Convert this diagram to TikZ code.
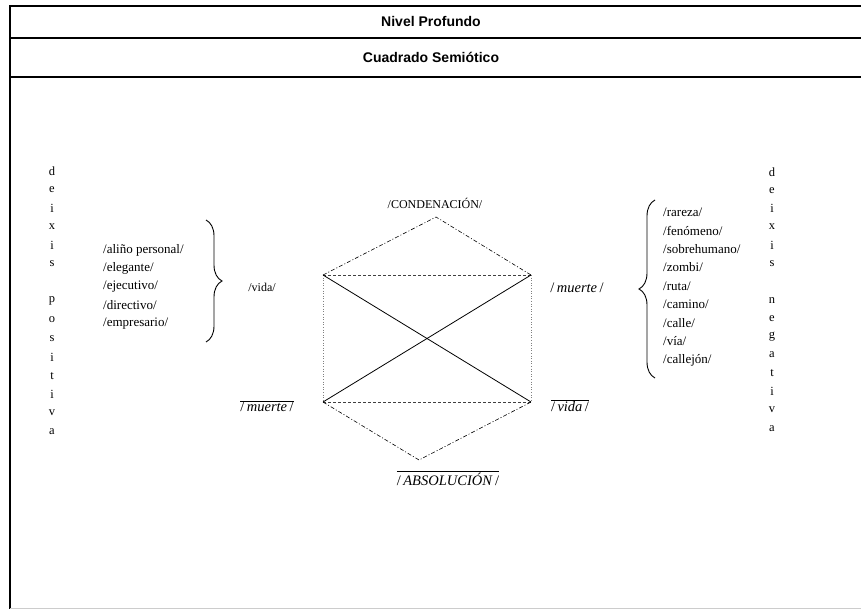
\documentclass[tikz,border=0pt]{standalone}
\usepackage{fontspec}
\setmainfont{Liberation Serif}
\setsansfont{Liberation Sans}
\usetikzlibrary{positioning}
\usetikzlibrary{decorations.pathreplacing}
\newcommand{\negterm}[1]{$\overline{\mbox{/\,\textit{#1}\,/}}$}

\begin{document}
\begin{tikzpicture}[x=1pt, y=-1pt,
    head/.style={font=\sffamily\bfseries\fontsize{14}{16}\selectfont},
    term/.style={font=\fontsize{12}{14}\selectfont, inner sep=1pt},
    ecuac/.style={font=\fontsize{14.5}{16}\selectfont, inner sep=1pt},
    lexema/.style={font=\fontsize{13}{15}\selectfont, inner sep=1pt, anchor=west},
    letra/.style={font=\fontsize{12.5}{14}\selectfont, inner sep=0pt},
    llave/.style={decorate, decoration={brace, amplitude=16pt}, line width=0.9pt},
    lado/.style={dotted, gray, line width=0.6pt},
    base/.style={dashed, dash pattern=on 3pt off 2pt, line width=0.7pt, black!75},
    cumbre/.style={dash pattern=on 4pt off 2pt on 1pt off 2pt, line width=0.6pt},
    contra/.style={line width=0.8pt}]
    \useasboundingbox (0,0) rectangle (861,609);

    % marco y cabecera
    \draw[line width=2.6pt] (10,609) -- (10,6) -- (861,6);
    \draw[line width=1.1pt] (10,38) -- (861,38);
    \draw[line width=1.1pt] (10,77) -- (861,77);
    \draw[gray!40, line width=1pt] (10,608) -- (861,608);
    \node[head] (nivel) at (431,22) {Nivel Profundo};
    \node[head] (cuadro) at (431,57) {Cuadrado Semiótico};

    % deixis
    \foreach \l [count=\i from 0] in {d,e,i,x,i,s,,p,o,s,i,t,i,v,a} {
        \node[letra] (dp\i) at (52, 171+18.6*\i) {\l};
    }
    \foreach \l [count=\i from 0] in {d,e,i,x,i,s,,n,e,g,a,t,i,v,a} {
        \node[letra] (dn\i) at (772, 172+18.3*\i) {\l};
    }

    % esquinas del cuadrado
    \coordinate (vida) at (323,275);
    \coordinate (muerte) at (531,275);
    \coordinate (nomuerte) at (323,402);
    \coordinate (novida) at (531,402);
    \coordinate (cond) at (436,217);
    \coordinate (abs) at (419,460);

    \draw[lado] (vida) -- (nomuerte);
    \draw[lado] (muerte) -- (novida);
    \draw[base] (vida) -- (muerte);
    \draw[base] (nomuerte) -- (novida);
    \draw[contra] (vida) -- (novida);
    \draw[contra] (muerte) -- (nomuerte);
    \draw[cumbre] (vida) -- (cond) -- (muerte);
    \draw[cumbre] (nomuerte) -- (abs) -- (novida);

    % terminos
    \node[term] (tcond) at (435,203) {/CONDENACIÓN/};
    \node[ecuac] (tabs) at (448,478) {\negterm{ABSOLUCIÓN}};
    \node[term] (tvida) at (262,287) {/vida/};
    \node[ecuac] (tmuerte) at (577,288) {/\,\textit{muerte}\,/};
    \node[ecuac] (tnomuerte) at (267,406) {\negterm{muerte}};
    \node[ecuac] (tnovida) at (570,406) {\negterm{vida}};

    % lexemas de la deixis positiva
    \foreach \w [count=\i from 0] in {/aliño personal/,/elegante/,/ejecutivo/,/directivo/,/empresario/} {
        \node[lexema] (lp\i) at (102, 250+18.3*\i) {\w};
    }
    \draw[llave] (206,220) -- (206,342);

    % lexemas de la deixis negativa
    \foreach \w [count=\i from 0] in {/rareza/,/fenómeno/,/sobrehumano/,/zombi/,/ruta/,/camino/,/calle/,/vía/,/callejón/} {
        \node[lexema] (ln\i) at (662, 212+18.5*\i) {\w};
    }
    \draw[llave] (655,378) -- (655,200);
\end{tikzpicture}
\end{document}
